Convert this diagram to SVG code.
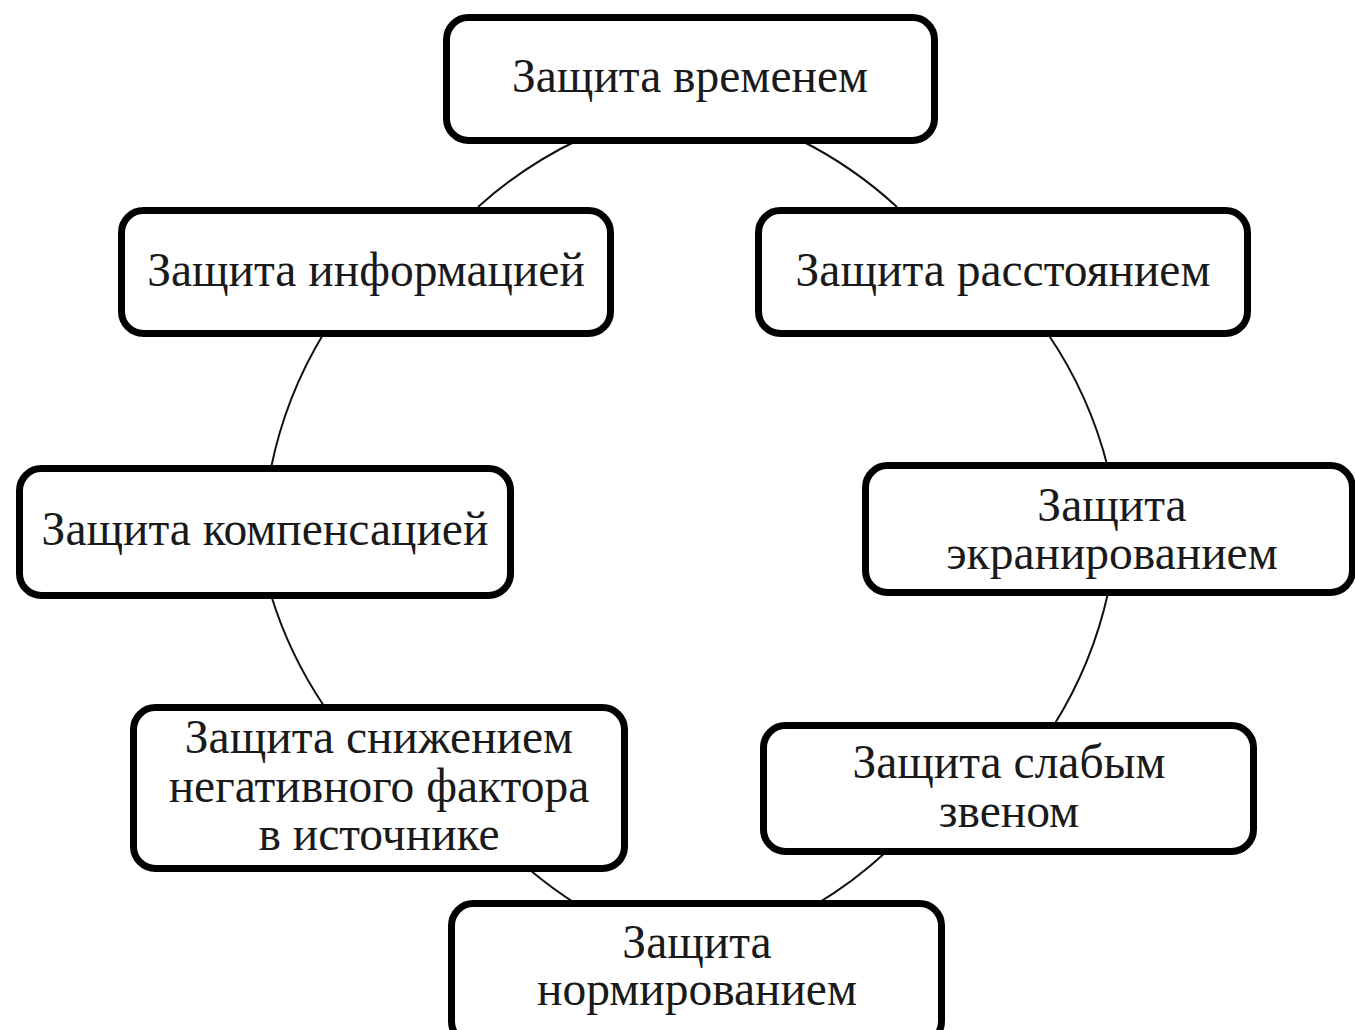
<svg xmlns="http://www.w3.org/2000/svg" width="1355" height="1030" viewBox="0 0 1355 1030">
<style>
.box{fill:#fff;stroke:#000;stroke-width:7}
.lbl{font-family:"Liberation Serif","Times New Roman",serif;font-size:47.5px;fill:#1a1a1a;text-anchor:middle}
.con{fill:none;stroke:#111;stroke-width:2}
</style>
<rect width="1355" height="1030" fill="#fff"/>
<g id="connectors">
<path class="con" d="M800,140 A420,420 0 0 1 897,207"/>
<path class="con" d="M1048,334 A420,420 0 0 1 1108,468"/>
<path class="con" d="M1108,593 A420,420 0 0 1 1054,725"/>
<path class="con" d="M886,852 A420,420 0 0 1 815,905"/>
<path class="con" d="M578,905 A420,420 0 0 1 530,870"/>
<path class="con" d="M324,706 A420,420 0 0 1 271,595"/>
<path class="con" d="M271,468 A420,420 0 0 1 324,333"/>
<path class="con" d="M478,207 A420,420 0 0 1 578,140"/>
</g>
<g id="n1"><rect class="box" x="446.5" y="17.5" width="488" height="123" rx="22"/><text class="lbl" x="690" y="92">Защита временем</text></g>
<g id="n2"><rect class="box" x="121.5" y="210.5" width="489" height="123" rx="22"/><text class="lbl" x="366" y="286">Защита информацией</text></g>
<g id="n3"><rect class="box" x="758.5" y="210.5" width="489" height="123" rx="22"/><text class="lbl" x="1003" y="286">Защита расстоянием</text></g>
<g id="n4"><rect class="box" x="19.5" y="468.5" width="491" height="127" rx="22"/><text class="lbl" x="265" y="545">Защита компенсацией</text></g>
<g id="n5"><rect class="box" x="865.5" y="465.5" width="487" height="127" rx="22"/><text class="lbl" x="1112" y="521">Защита</text><text class="lbl" x="1112" y="569">экранированием</text></g>
<g id="n6"><rect class="box" x="133.5" y="707.5" width="491" height="161" rx="22"/><text class="lbl" x="379" y="753">Защита снижением</text><text class="lbl" x="379" y="802">негативного фактора</text><text class="lbl" x="379" y="850">в источнике</text></g>
<g id="n7"><rect class="box" x="763.5" y="725.5" width="490" height="126" rx="22"/><text class="lbl" x="1009" y="778">Защита слабым</text><text class="lbl" x="1009" y="827">звеном</text></g>
<g id="n8"><rect class="box" x="451.5" y="903.5" width="490" height="140" rx="22"/><text class="lbl" x="697" y="958">Защита</text><text class="lbl" x="697" y="1005">нормированием</text></g>
</svg>
